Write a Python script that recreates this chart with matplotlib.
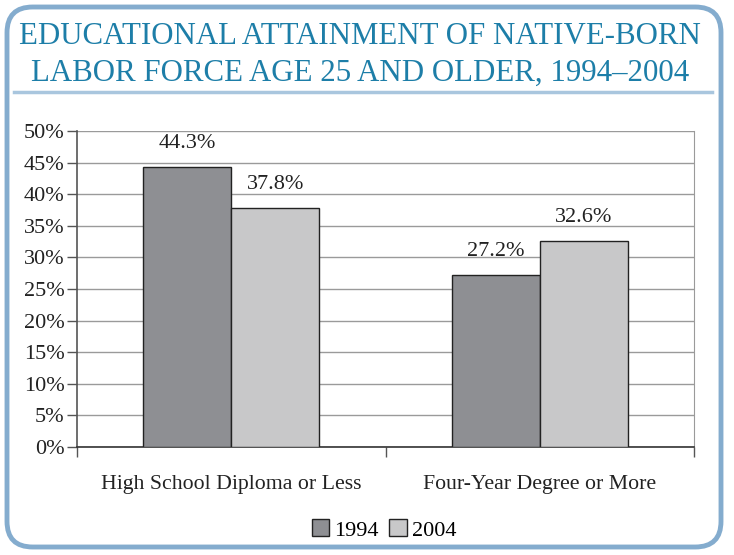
import numpy as np
import matplotlib
matplotlib.use("Agg")
import matplotlib.pyplot as plt
from matplotlib.patches import FancyBboxPatch
from matplotlib.lines import Line2D

# data
categories = ["High School Diploma or Less", "Four-Year Degree or More"]
years = ["1994", "2004"]
vals_1994 = [44.3, 27.2]
vals_2004 = [37.8, 32.6]
yticks = [0, 5, 10, 15, 20, 25, 30, 35, 40, 45, 50]

plt.rcParams['font.family'] = ['Liberation Serif', 'DejaVu Serif']

fig = plt.figure(figsize=(7.34, 5.55), dpi=100)
W, H = 734, 555

# rounded frame
frame = FancyBboxPatch((7 / W, 8 / H), 714 / W, 540 / H,
                       boxstyle="round,pad=0,rounding_size=0.035",
                       transform=fig.transFigure, facecolor="white",
                       edgecolor="#84acce", linewidth=3.5, mutation_aspect=W / H, zorder=-5)
fig.patches.append(frame)

# title
title_color = "#1d7ea8"
fig.text(0.490, 1 - 36 / H, "EDUCATIONAL ATTAINMENT OF NATIVE-BORN", ha="center", va="center",
         fontsize=22.2, color=title_color)
fig.text(0.490, 1 - 73 / H, "LABOR FORCE AGE 25 AND OLDER, 1994\u20132004", ha="center", va="center",
         fontsize=22.2, color=title_color)
fig.add_artist(Line2D([14 / W, 712 / W], [1 - 92 / H, 1 - 92 / H], transform=fig.transFigure,
                      color="#a9c6de", linewidth=2.5))

ax = fig.add_axes([77 / W, 1 - 447 / H, 617 / W, 316 / H])
ax.set_facecolor("none")
x = np.arange(len(categories))
w = 1 / 3.5
b1 = ax.bar(x - w / 2, vals_1994, w, color="#8e8f93", edgecolor="#222222", linewidth=1, zorder=3, label=years[0])
b2 = ax.bar(x + w / 2, vals_2004, w, color="#c8c8c9", edgecolor="#222222", linewidth=1, zorder=3, label=years[1])

for bars, vals in [(b1, vals_1994), (b2, vals_2004)]:
    for r, v in zip(bars, vals):
        ax.text(r.get_x() + r.get_width() / 2, v + 2.2, f"{v:.1f}%", ha="center", va="bottom",
                fontsize=16, color="#222222")

ax.set_xlim(-0.5, 1.5)
ax.set_ylim(0, 50)
ax.set_yticks(yticks)
ax.set_yticklabels([f"{t}%" for t in yticks], fontsize=16, color="#222222")
ax.yaxis.grid(True, color="#9a9a9a", linewidth=1, zorder=0)
ax.tick_params(axis="y", length=7, width=1, color="#555555", pad=2)

ax.set_xticks([-0.5, 0.5, 1.5])
ax.set_xticklabels([])
ax.tick_params(axis="x", length=7, width=1, color="#555555")
for xi, c in zip(x, categories):
    ax.text(xi, -4.4, c, ha="center", va="top", fontsize=15.7, color="#222222")

ax.spines["top"].set_visible(False)
ax.spines["right"].set_color("#9a9a9a")
ax.spines["left"].set_color("#555555")
ax.spines["bottom"].set_color("#333333")
ax.spines["left"].set_linewidth(1.2)
ax.spines["bottom"].set_linewidth(1.2)

leg = fig.legend(handles=[b1, b2], loc="center", bbox_to_anchor=(0.523, 1 - 530 / H), ncol=2,
                 frameon=False, fontsize=16, handlelength=0.8, handleheight=0.8,
                 handletextpad=0.2, columnspacing=0.5)

fig.savefig("out.png", dpi=100)
